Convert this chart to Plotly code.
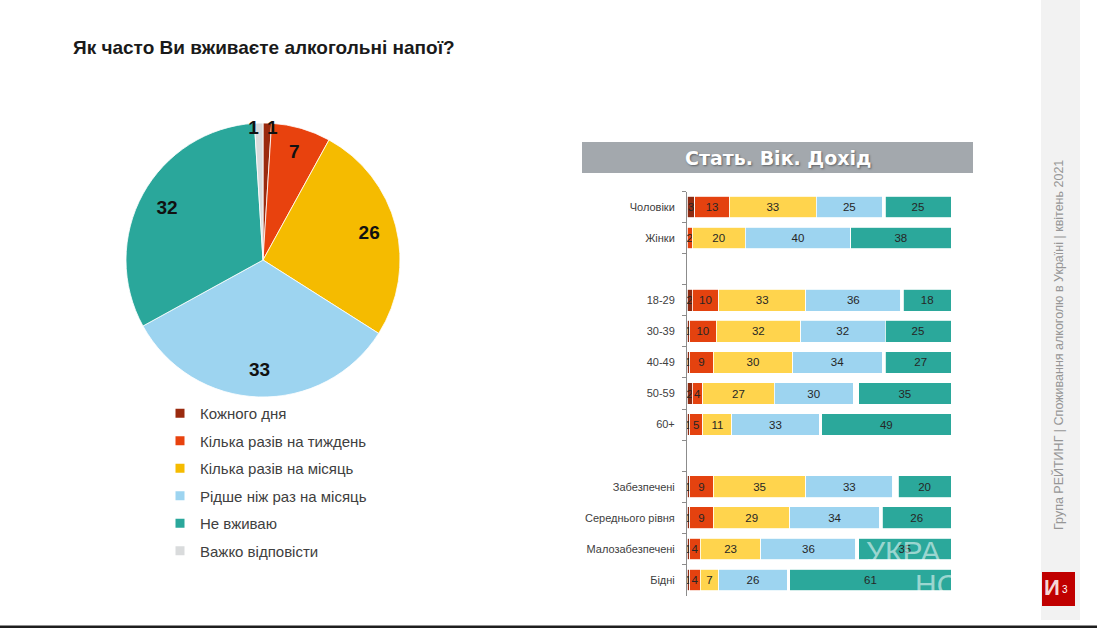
import plotly.graph_objects as go

# ---------------- data ----------------
pie_labels = ["Кожного дня", "Кілька разів на тиждень", "Кілька разів на місяць",
              "Рідше ніж раз на місяць", "Не вживаю", "Важко відповісти"]
pie_values = [1, 7, 26, 33, 32, 1]

categories = ["Чоловіки", "Жінки", " ", "18-29", "30-39", "40-49", "50-59", "60+", "  ",
              "Забезпечені", "Середнього рівня", "Малозабезпечені", "Бідні"]
daily   = [3, 0, None, 2, 1, 1, 2, 1, None, 1, 1, 1, 1]
weekly  = [13, 2, None, 10, 10, 9, 4, 5, None, 9, 9, 4, 4]
monthly = [33, 20, None, 33, 32, 30, 27, 11, None, 35, 29, 23, 7]
rarely  = [25, 40, None, 36, 32, 34, 30, 33, None, 33, 34, 36, 26]
hard    = [1, 0, None, 1, 0, 1, 2, 1, None, 2, 1, 1, 1]
never   = [25, 38, None, 18, 25, 27, 35, 49, None, 20, 26, 35, 61]

title_text = "Як часто Ви вживаєте алкогольні напої?"
header_text = "Стать. Вік. Дохід"
side_text = "Група РЕЙТИНГ | Споживання алкоголю в Україні | квітень 2021"

# ---------------- styles ----------------
W, H = 1097, 628
pie_colors = ["#9A2A0E", "#E8420E", "#F5BB00", "#9DD4F0", "#2AA79B", "#D9DBDC"]
bar_colors = ["#8E2B12", "#E4420F", "#FFD44D", "#9DD4F0", "#FFFFFF", "#2BA89B"]
SANS = "Liberation Sans, Arial, sans-serif"
NB = "\u00a0"


def px_x(p):
    return p / W


def px_y(p):
    return 1 - p / H


pie_domain = dict(x=[px_x(126), px_x(400)], y=[px_y(397), px_y(123)])

# pie value labels; the two tiny slices get padding so they sit side by side
pie_text = [str(v) for v in pie_values]
pie_text[0] = NB * 2 + pie_text[0]
pie_text[-1] = pie_text[-1] + NB * 2

fig = go.Figure()

# pie (slices)
fig.add_trace(go.Pie(
    labels=pie_labels, values=pie_values, sort=False, direction="clockwise", rotation=0,
    marker=dict(colors=pie_colors, line=dict(color="white", width=0.8)),
    textinfo="none", domain=pie_domain, showlegend=False, hoverinfo="label+value",
))
# pie (value labels placed in an outer ring)
fig.add_trace(go.Pie(
    labels=pie_labels, values=pie_values, sort=False, direction="clockwise", rotation=0,
    hole=0.6, marker=dict(colors=["rgba(0,0,0,0)"] * len(pie_values),
                          line=dict(width=0)),
    text=pie_text, textinfo="text",
    textposition="inside", insidetextorientation="horizontal",
    textfont=dict(family=SANS, size=19, color="#111111", weight="bold"),
    domain=pie_domain, showlegend=False, hoverinfo="skip",
))

# stacked bars
series = [daily, weekly, monthly, rarely, hard, never]
names = ["Кожного дня", "Кілька разів на тиждень", "Кілька разів на місяць",
         "Рідше ніж раз на місяць", "Важко відповісти", "Не вживаю"]
for i, (name, vals) in enumerate(zip(names, series)):
    is_hard = name == "Важко відповісти"
    fig.add_trace(go.Bar(
        y=categories, x=vals, orientation="h", name=name,
        marker=dict(color=bar_colors[i], line=dict(color="white", width=0.8)),
        text=None if is_hard else [str(v) if v else "" for v in vals],
        textposition="inside", insidetextanchor="middle", textangle=0,
        textfont=dict(family=SANS, size=11.5, color="#262626"),
        showlegend=False, xaxis="x", yaxis="y",
    ))

# legend entries (pie colours)
for lab, col in zip(pie_labels, pie_colors):
    fig.add_trace(go.Scatter(
        x=[None], y=[None], mode="markers", name=lab, legendgroup=lab,
        marker=dict(symbol="square", size=9, color=col),
        xaxis="x2", yaxis="y2", showlegend=True,
    ))

fig.update_layout(
    width=W, height=H, margin=dict(l=0, r=0, t=0, b=0),
    paper_bgcolor="white", plot_bgcolor="white",
    barmode="stack", bargap=0.3,
    uniformtext=dict(minsize=11, mode="show"),
    xaxis=dict(domain=[px_x(687), px_x(951)], range=[0, 100], visible=False, fixedrange=True),
    yaxis=dict(domain=[px_y(595.5), px_y(191.5)], type="category",
               categoryorder="array", categoryarray=categories, autorange="reversed",
               showline=True, linecolor="#8C8C8C", linewidth=1,
               ticks="outside", tickson="boundaries", ticklen=4, tickcolor="#8C8C8C",
               ticklabelstandoff=9,
               tickfont=dict(family=SANS, size=11, color="#404040"),
               showgrid=False, zeroline=False),
    xaxis2=dict(domain=[0, 0.01], visible=False),
    yaxis2=dict(domain=[0, 0.01], visible=False),
    legend=dict(x=px_x(160), y=px_y(397), xanchor="left", yanchor="top",
                font=dict(family=SANS, size=15, color="#404040"),
                tracegroupgap=5, bgcolor="rgba(0,0,0,0)", itemclick=False),
    shapes=[
        dict(type="rect", xref="paper", yref="paper",
             x0=px_x(582), x1=px_x(973), y0=px_y(173), y1=px_y(142),
             fillcolor="#A3A8AD", line=dict(width=0), layer="below"),
        dict(type="rect", xref="paper", yref="paper",
             x0=px_x(1041), x1=px_x(1080), y0=px_y(620), y1=px_y(0),
             fillcolor="#F2F2F2", line=dict(width=0), layer="below"),
        dict(type="rect", xref="paper", yref="paper",
             x0=px_x(1042), x1=px_x(1075), y0=px_y(606), y1=px_y(572),
             fillcolor="#C00000", line=dict(width=0)),
        dict(type="rect", xref="paper", yref="paper",
             x0=0, x1=1, y0=px_y(628), y1=px_y(625.5),
             fillcolor="#1E1E1E", line=dict(width=0)),
    ],
    annotations=[
        dict(text=title_text, xref="paper", yref="paper", x=px_x(71), y=px_y(47),
             xanchor="left", yanchor="middle", showarrow=False,
             font=dict(family=SANS, size=19, color="#1A1A1A", weight="bold")),
        dict(text=header_text, xref="paper", yref="paper", x=px_x(778), y=px_y(158),
             xanchor="center", yanchor="middle", showarrow=False,
             font=dict(family="DejaVu Sans, sans-serif", size=19, color="white", weight="bold",
                       shadow="1px 1px 2px #5E6266")),
        dict(text=side_text, xref="paper", yref="paper", x=px_x(1058), y=px_y(345),
             xanchor="center", yanchor="middle", showarrow=False, textangle=-90,
             font=dict(family=SANS, size=12.5, color="#969696")),
        dict(text="3", xref="paper", yref="paper", x=px_x(1065), y=px_y(589),
             xanchor="center", yanchor="middle", showarrow=False,
             font=dict(family=SANS, size=10, color="white")),
        dict(text="И", xref="paper", yref="paper", x=px_x(1052), y=px_y(587),
             xanchor="center", yanchor="middle", showarrow=False,
             font=dict(family=SANS, size=22, color="rgba(255,255,255,0.85)", weight="bold")),
        dict(text="УКРА", xref="paper", yref="paper", x=px_x(864), y=px_y(551),
             xanchor="left", yanchor="middle", showarrow=False,
             font=dict(family=SANS, size=30, color="rgba(255,255,255,0.55)")),
        dict(text="НО", xref="paper", yref="paper", x=px_x(913), y=px_y(584),
             xanchor="left", yanchor="middle", showarrow=False,
             font=dict(family=SANS, size=30, color="rgba(255,255,255,0.55)")),
    ],
)

fig.write_html("out.html")
